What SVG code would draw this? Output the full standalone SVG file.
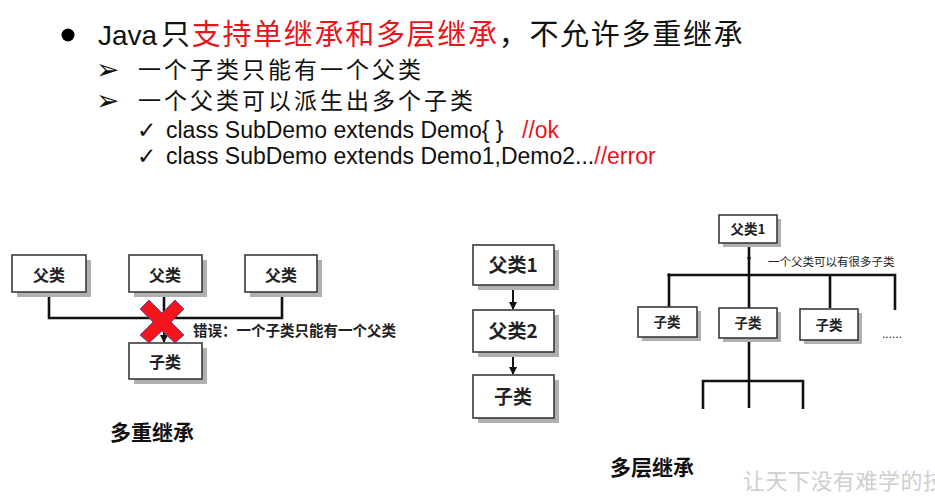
<svg xmlns="http://www.w3.org/2000/svg" width="935" height="499" viewBox="0 0 935 499">
<defs>
<style>
.cjk{font-family:"Noto Sans CJK SC","Noto Sans",sans-serif}
.lat{font-family:"Liberation Sans",Arial,"Noto Sans CJK SC",sans-serif}
.sym{font-family:"DejaVu Sans",sans-serif;fill:#111}
.red{fill:#e8151b}
.blk{fill:#111}
.box{fill:#fff;stroke:#3a3a3a;stroke-width:1.6}
.shadow{fill:#b0b0b0}
.bt{font-family:"Noto Sans CJK SC",sans-serif;font-weight:bold;fill:#222;text-anchor:middle}
.ln{stroke:#111;stroke-width:2.6;fill:none}
.ln2{stroke:#111;stroke-width:2;fill:none}
</style>
<marker id="ah" viewBox="0 0 8 8" refX="7" refY="4" markerWidth="4" markerHeight="4" orient="auto">
<path d="M0,0 L8,4 L0,8 Z" fill="#111"/>
</marker>
</defs>
<rect width="935" height="499" fill="#fff"/>

<g id="text-block">
<circle cx="68" cy="35" r="6.5" fill="#000"/>
<text x="98" y="45" class="lat blk" font-size="28">Java</text>
<text x="161" y="45" class="cjk" font-size="29" letter-spacing="1.7"><tspan class="blk">只</tspan><tspan class="red">支持单继承和多层继承</tspan><tspan class="blk">，不允许多重继承</tspan></text>
<text x="96" y="79" class="sym" font-size="28" font-weight="bold">➢</text>
<text x="138" y="78" class="cjk blk" font-size="23" letter-spacing="3">一个子类只能有一个父类</text>
<text x="96" y="110" class="sym" font-size="28" font-weight="bold">➢</text>
<text x="138" y="109" class="cjk blk" font-size="23" letter-spacing="3">一个父类可以派生出多个子类</text>
<text x="137" y="138" class="sym" font-size="23">✓</text>
<text x="166" y="138" class="lat blk" font-size="23">class SubDemo extends Demo{ }</text>
<text x="522" y="138" class="lat red" font-size="23">//ok</text>
<text x="137" y="164" class="sym" font-size="23">✓</text>
<text x="166" y="164" class="lat blk" font-size="23">class SubDemo extends Demo1,Demo2...<tspan class="red">//error</tspan></text>
</g>

<g id="connectors">
<path class="ln" d="M49,292 V318 H282 V292"/>
<path class="ln" d="M164,292 V318"/>
<path class="ln2" d="M164,318 V342" marker-end="url(#ah)"/>
<path class="ln2" d="M513,285 V309" marker-end="url(#ah)"/>
<path class="ln2" d="M513,352 V374" marker-end="url(#ah)"/>
<path class="ln" d="M749,243 V308"/>
<path class="ln" d="M669,307 V275 H895 V310"/>
<path class="ln" d="M830,275 V308"/>
<circle cx="749" cy="258" r="1.8" fill="#111"/>
<circle cx="669" cy="275" r="1.8" fill="#111"/>
<path class="ln" d="M749,338 V408"/>
<path class="ln" d="M703,409 V381 H803 V409"/>
</g>

<g id="node-m-parent1">
<rect class="shadow" x="17" y="260" width="74" height="37"/>
<rect class="box" x="12" y="255" width="74" height="37"/>
<text class="bt" x="49" y="281" font-size="16">父类</text>
</g>
<g id="node-m-parent2">
<rect class="shadow" x="134" y="260" width="73" height="37"/>
<rect class="box" x="129" y="255" width="73" height="37"/>
<text class="bt" x="165" y="281" font-size="16">父类</text>
</g>
<g id="node-m-parent3">
<rect class="shadow" x="250" y="260" width="72" height="37"/>
<rect class="box" x="245" y="255" width="72" height="37"/>
<text class="bt" x="281" y="281" font-size="16">父类</text>
</g>
<g id="node-m-child">
<rect class="shadow" x="134" y="348" width="73" height="36"/>
<rect class="box" x="129" y="343" width="73" height="36"/>
<text class="bt" x="165" y="368" font-size="16">子类</text>
</g>
<g id="error-mark">
<path d="M149,300 L162,313 L175,300 L184,309 L171,322 L184,335 L175,343 L162,331 L149,343 L140,335 L153,322 L140,309 Z" fill="#f5141b" stroke="#2a4aa0" stroke-width="0.8"/>
<text x="193" y="336" class="cjk" font-size="14.5" font-weight="bold" fill="#222">错误：一个子类只能有一个父类</text>
</g>
<text x="110" y="440" class="cjk" font-size="21" font-weight="bold" fill="#111">多重继承</text>

<g id="node-l-parent1">
<rect class="shadow" x="478" y="250" width="81" height="40"/>
<rect class="box" x="473" y="245" width="81" height="40"/>
<text class="bt" x="513" y="272" font-size="19">父类1</text>
</g>
<g id="node-l-parent2">
<rect class="shadow" x="478" y="315" width="81" height="42"/>
<rect class="box" x="473" y="310" width="81" height="42"/>
<text class="bt" x="513" y="338" font-size="19">父类2</text>
</g>
<g id="node-l-child">
<rect class="shadow" x="478" y="380" width="81" height="43"/>
<rect class="box" x="473" y="375" width="81" height="43"/>
<text class="bt" x="513" y="404" font-size="19">子类</text>
</g>

<g id="node-t-root">
<rect class="shadow" x="723" y="219" width="58" height="28"/>
<rect class="box" x="719" y="215" width="58" height="28"/>
<text class="bt" x="748" y="234" font-size="13.5">父类1</text>
</g>
<text x="768" y="266" class="cjk" font-size="11.5" fill="#222">一个父类可以有很多子类</text>
<g id="node-t-child1">
<rect class="shadow" x="642" y="311" width="59" height="30"/>
<rect class="box" x="638" y="307" width="59" height="30"/>
<text class="bt" x="667" y="327" font-size="13.5">子类</text>
</g>
<g id="node-t-child2">
<rect class="shadow" x="723" y="312" width="58" height="30"/>
<rect class="box" x="719" y="308" width="58" height="30"/>
<text class="bt" x="748" y="328" font-size="13.5">子类</text>
</g>
<g id="node-t-child3">
<rect class="shadow" x="804" y="313" width="58" height="31"/>
<rect class="box" x="800" y="309" width="58" height="31"/>
<text class="bt" x="829" y="330" font-size="13.5">子类</text>
</g>
<text x="882" y="338" class="lat" font-size="12" fill="#222">......</text>
<text x="610" y="475" class="cjk" font-size="21" font-weight="bold" fill="#111">多层继承</text>
<text x="743" y="489" class="cjk" font-size="22" fill="#cfcfcf" letter-spacing="0.5">让天下没有难学的技术</text>
</svg>
